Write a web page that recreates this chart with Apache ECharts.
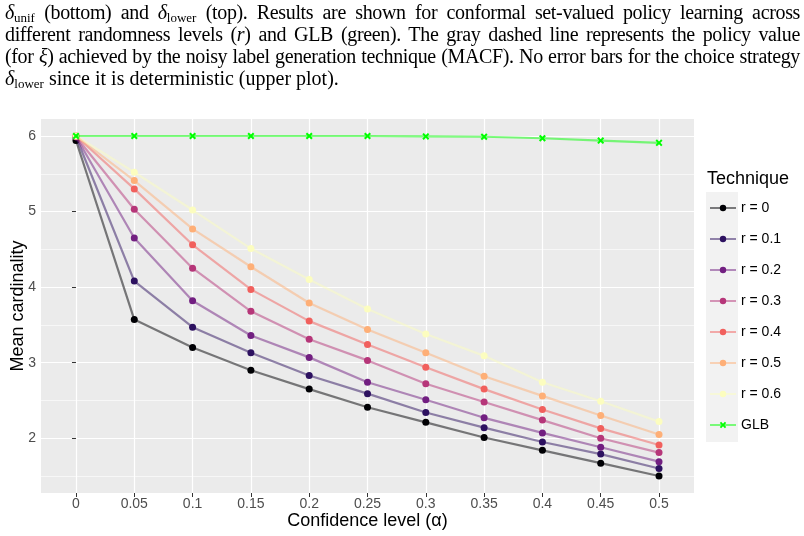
<!DOCTYPE html>
<html>
<head>
<meta charset="utf-8">
<script src="https://cdn.jsdelivr.net/npm/echarts@6/dist/echarts.min.js"></script>
<style>
  html, body { margin: 0; padding: 0; background: #fff; }
  #wrap { position: relative; width: 804px; height: 536px; overflow: hidden; }
  #caption { position: absolute; left: 5px; top: 1px; width: 795px;
    font-family: "Liberation Serif", "DejaVu Serif", serif; font-size: 20px; color: #000; }
  #caption div { height: 22px; line-height: 22px; white-space: nowrap; }
  #caption .j { text-align: justify; text-align-last: justify; letter-spacing: -0.35px; }
  #caption sub { font-size: 13px; vertical-align: -3px; line-height: 0; letter-spacing: 0; }
  #caption i { font-style: italic; }
  #my_chart { position: absolute; left: 0; top: 0; width: 804px; height: 536px; }
</style>
</head>
<body>
<div id="wrap">
  <div id="my_chart"></div>
  <div id="caption">
    <div class="j"><i>δ</i><sub>unif</sub> (bottom) and <i>δ</i><sub>lower</sub> (top). Results are shown for conformal set-valued policy learning across</div>
    <div class="j">different randomness levels (<i>r</i>) and GLB (green). The gray dashed line represents the policy value</div>
    <div class="j">(for <i>ξ</i>) achieved by the noisy label generation technique (MACF). No error bars for the choice strategy</div>
    <div><i>δ</i><sub>lower</sub> since it is deterministic (upper plot).</div>
  </div>
</div>
<script>
    // confidence levels (x)
    var alphas = [0, 0.05, 0.1, 0.15, 0.2, 0.25, 0.3, 0.35, 0.4, 0.45, 0.5];
    var yTicks = [2, 3, 4, 5, 6];
    var yMinor = [1.5, 2.5, 3.5, 4.5, 5.5];

    var names = ['r = 0', 'r = 0.1', 'r = 0.2', 'r = 0.3', 'r = 0.4', 'r = 0.5', 'r = 0.6', 'GLB'];
    var colors = ['#000004', '#2D1160', '#721F81', '#B63679', '#F1605D', '#FEAF77', '#FCFDBF', '#00FF00'];

    var r0  = [5.94, 3.57, 3.20, 2.90, 2.65, 2.41, 2.21, 2.01, 1.84, 1.67, 1.50];
    var r01 = [5.99, 4.08, 3.47, 3.13, 2.83, 2.59, 2.34, 2.14, 1.95, 1.79, 1.60];
    var r02 = [5.99, 4.65, 3.82, 3.36, 3.07, 2.74, 2.51, 2.27, 2.07, 1.88, 1.69];
    var r03 = [5.99, 5.03, 4.25, 3.68, 3.31, 3.03, 2.72, 2.48, 2.24, 2.00, 1.81];
    var r04 = [6.00, 5.30, 4.56, 3.97, 3.55, 3.24, 2.94, 2.65, 2.38, 2.13, 1.91];
    var r05 = [6.00, 5.41, 4.77, 4.27, 3.79, 3.44, 3.13, 2.82, 2.56, 2.30, 2.05];
    var r06 = [6.00, 5.52, 5.02, 4.51, 4.10, 3.71, 3.38, 3.09, 2.74, 2.49, 2.22];
    var glb = [6.00, 6.00, 6.00, 6.00, 6.00, 6.00, 5.995, 5.99, 5.97, 5.94, 5.91];

    var allValues = [r0, r01, r02, r03, r04, r05, r06, glb];
    var crossPath = 'path://M2,0L5,3L8,0L10,2L7,5L10,8L8,10L5,7L2,10L0,8L3,5L0,2Z';

    var myChart = echarts.init(document.getElementById('my_chart'));

    var series = [];
    for (var i = 0; i < names.length; i++) {
        var pts = [];
        for (var j = 0; j < alphas.length; j++) {
            pts.push([alphas[j], allValues[i][j]]);
        }
        var isGlb = names[i] == 'GLB';
        series.push({
            name: names[i],
            type: 'line',
            data: pts,
            symbol: isGlb ? crossPath : 'circle',
            symbolSize: 7,
            showSymbol: true,
            lineStyle: { color: colors[i], width: 2.2, opacity: 0.5 },
            itemStyle: { color: colors[i] },
            emphasis: { disabled: true },
            z: 2 + i
        });
    }

    var option = {
        animation: false,
        textStyle: { fontFamily: 'Liberation Sans' },
        grid: {
            left: 41, right: 110, top: 119, bottom: 43,
            outerBoundsMode: 'none',
            show: true, backgroundColor: '#EBEBEB', borderWidth: 0
        },
        xAxis: {
            type: 'value',
            min: -0.03, max: 0.53,
            name: 'Confidence level (α)',
            nameLocation: 'middle',
            nameGap: 19,
            nameMoveOverlap: false,
            nameTextStyle: { fontSize: 18, color: '#000' },
            axisLine: { show: false },
            axisTick: { show: true, length: 4, customValues: alphas, lineStyle: { color: '#333', width: 1 } },
            axisLabel: {
                customValues: alphas, fontSize: 14, color: '#4D4D4D', margin: 4,
                formatter: function (v) { return String(parseFloat(Number(v).toFixed(2))); }
            },
            splitLine: { show: true, lineStyle: { color: '#fff', width: 1.2 } }
        },
        yAxis: [{
            type: 'value',
            min: 1.275, max: 6.225,
            name: 'Mean cardinality',
            nameLocation: 'middle',
            nameGap: 14,
            nameMoveOverlap: false,
            nameTextStyle: { fontSize: 18, color: '#000' },
            axisLine: { show: false },
            axisTick: { show: true, length: 4, customValues: yTicks, lineStyle: { color: '#333', width: 1 } },
            axisLabel: { customValues: yTicks, fontSize: 14, color: '#4D4D4D', margin: 5 },
            splitLine: { show: true, lineStyle: { color: '#fff', width: 1.2 } },
            z: 1
        }, {
            type: 'value',
            min: 1.275, max: 6.225,
            position: 'left',
            axisLine: { show: false },
            axisTick: { show: false, customValues: yMinor },
            axisLabel: { show: false, customValues: yMinor },
            splitLine: { show: true, lineStyle: { color: '#fff', width: 0.6 } },
            z: 0
        }],
        legend: {
            data: names,
            orient: 'vertical',
            left: 709, top: 201, padding: 0,
            itemWidth: 26, itemHeight: 8, itemGap: 17,
            lineStyle: { opacity: 0.5 },
            textStyle: { fontSize: 14, color: '#000' },
            selectedMode: false
        },
        graphic: [
            { type: 'rect', left: 706, top: 192, shape: { width: 32, height: 250 }, style: { fill: '#F2F2F2' }, z: -1 },
            { type: 'text', left: 707, top: 170, style: { text: 'Technique', fontSize: 18, fill: '#000', fontFamily: 'Liberation Sans' } }
        ],
        series: series
    };
    myChart.setOption(option);
</script>
</body>
</html>
